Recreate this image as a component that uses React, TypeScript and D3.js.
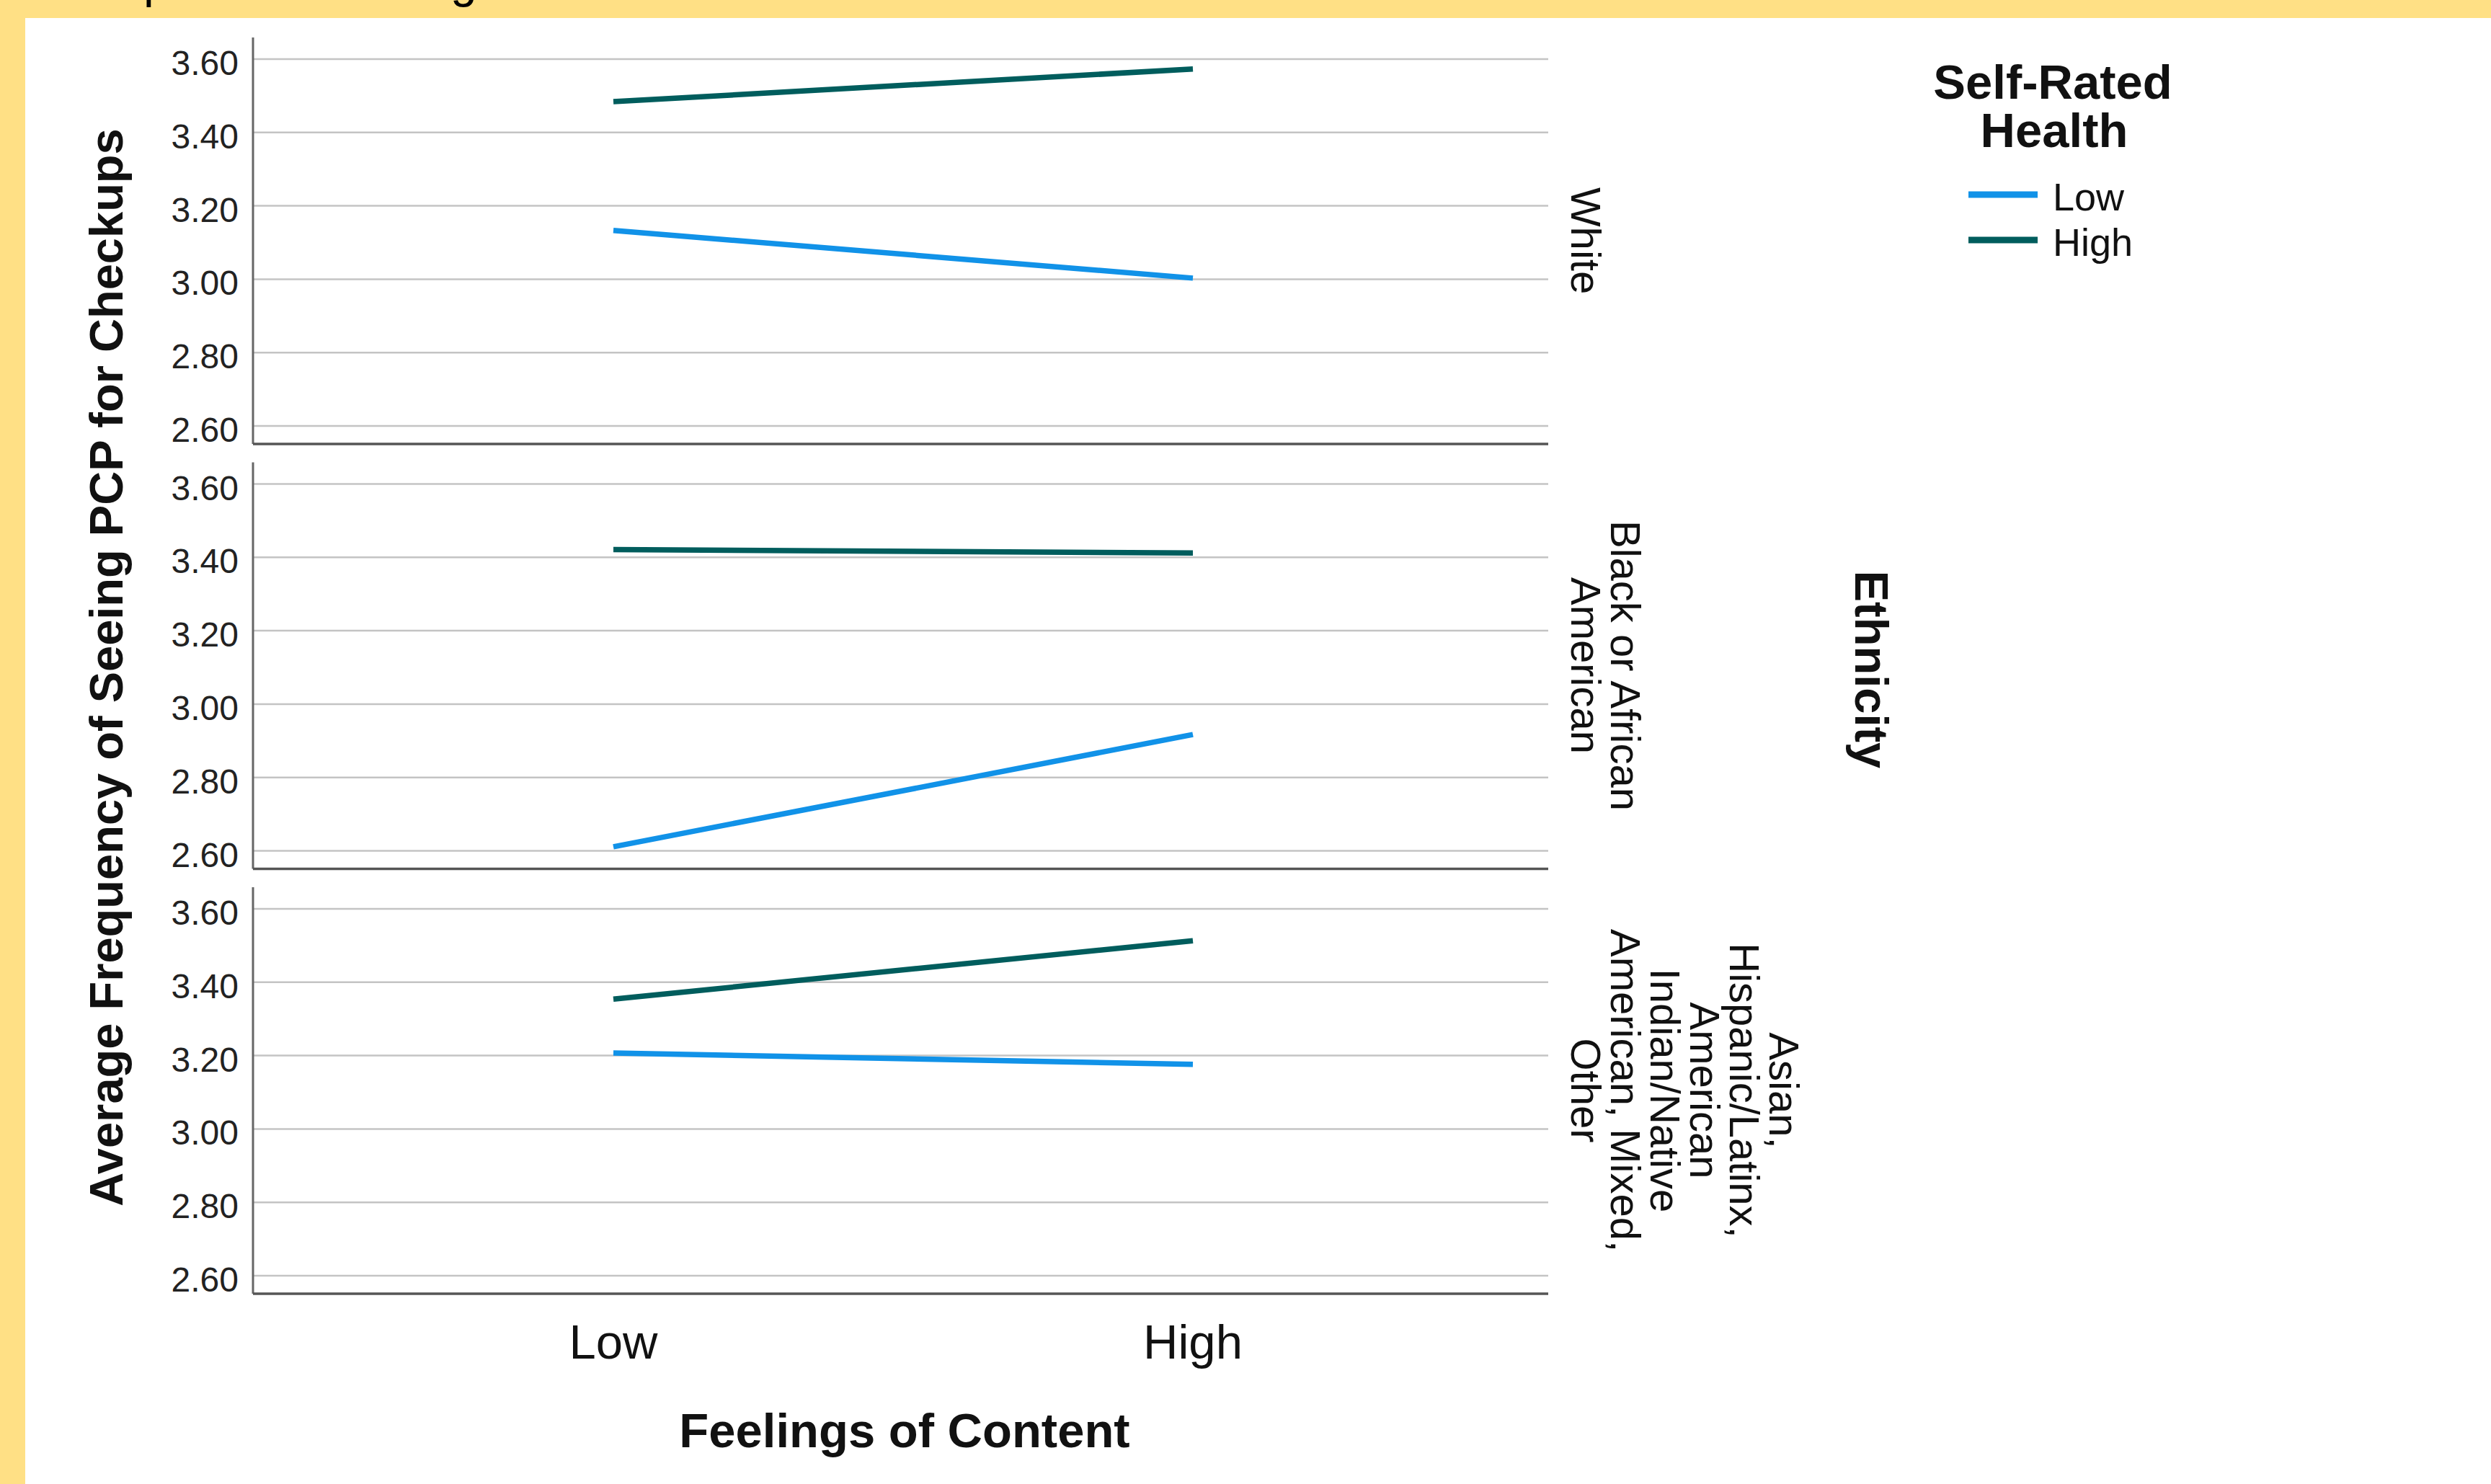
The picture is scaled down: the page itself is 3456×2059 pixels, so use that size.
import React from "react";
import * as d3 from "d3";

const contentLevels = ["Low", "High"];
const healthSeries = ["Low", "High"];
const panels = ["White", "Black or African American", "Asian, Hispanic/Latinx, American Indian/Native American, Mixed, Other"];
const panelLabelLines = [
  ["White"],
  ["Black or African", "American"],
  ["Asian,", "Hispanic/Latinx,", "American", "Indian/Native", "American, Mixed,", "Other"],
];
const lowHealthValues = [
  [3.133, 3.003],
  [2.611, 2.917],
  [3.207, 3.176],
];
const highHealthValues = [
  [3.484, 3.573],
  [3.421, 3.412],
  [3.354, 3.513],
];
const yTicks = [2.6, 2.8, 3.0, 3.2, 3.4, 3.6];
const seriesColors = ["#1192e8", "#005d5d"];

const W = 3456;
const H = 2059;
const plotLeft = 351;
const plotRight = 2148;
const panelTop0 = 52;
const panelStep = 589.5;
const panelH = 564;
const FONT = "'Liberation Sans', Arial, sans-serif";

export default function App() {
  const x = d3.scalePoint<string>().domain(contentLevels).range([851, 1655]);
  const line = d3.line<[number, number]>().x((d) => d[0]).y((d) => d[1]);

  return (
    <svg
      width={W}
      height={H}
      viewBox={`0 0 ${W} ${H}`}
      style={{ position: "absolute", left: 0, top: 0, display: "block" }}
      fontFamily={FONT}
    >
      <rect x={0} y={0} width={W} height={H} fill="#ffe085" />
      <rect x={35} y={25} width={W - 35} height={H - 25} fill="#ffffff" />
      <text x={199} y={-4} fontSize={66} fill="#000">p</text>
      <text x={625} y={-4} fontSize={66} fill="#000">g</text>

      {panels.map((p, i) => {
        const top = panelTop0 + i * panelStep;
        const bottom = top + panelH;
        const y = d3.scaleLinear().domain([2.6, 3.6]).range([top + 539, top + 30]);
        const lowPts: [number, number][] = contentLevels.map((c, j) => [x(c)!, y(lowHealthValues[i][j])]);
        const highPts: [number, number][] = contentLevels.map((c, j) => [x(c)!, y(highHealthValues[i][j])]);
        const cy = (top + bottom) / 2;
        const lines = panelLabelLines[i];
        return (
          <g key={p}>
            {yTicks.map((t) => (
              <g key={t}>
                <line x1={plotLeft} x2={plotRight} y1={y(t)} y2={y(t)} stroke="#c4c4c4" strokeWidth={2.5} />
                <text x={331} y={y(t) + 22} fontSize={48} textAnchor="end" fill="#222">
                  {t.toFixed(2)}
                </text>
              </g>
            ))}
            <line x1={plotLeft} x2={plotLeft} y1={top} y2={bottom} stroke="#666" strokeWidth={3} />
            <line x1={plotLeft} x2={plotRight} y1={bottom} y2={bottom} stroke="#555" strokeWidth={3.5} />
            <path d={line(lowPts)!} fill="none" stroke={seriesColors[0]} strokeWidth={7.5} />
            <path d={line(highPts)!} fill="none" stroke={seriesColors[1]} strokeWidth={7.5} />
            {lines.map((ln, k) => {
              const bx = 2180 + (lines.length - 1 - k) * 55;
              return (
                <text
                  key={k}
                  transform={`translate(${bx},${cy}) rotate(90)`}
                  textAnchor="middle"
                  fontSize={58}
                  fill="#111"
                >
                  {ln}
                </text>
              );
            })}
          </g>
        );
      })}

      {contentLevels.map((c) => (
        <text key={c} x={x(c)} y={1885} fontSize={67} textAnchor="middle" fill="#111">
          {c}
        </text>
      ))}
      <text x={1255} y={2008} fontSize={67} fontWeight="bold" textAnchor="middle" fill="#111">
        Feelings of Content
      </text>
      <text
        transform={`translate(170,926) rotate(-90)`}
        fontSize={65}
        fontWeight="bold"
        textAnchor="middle"
        fill="#111"
      >
        Average Frequency of Seeing PCP for Checkups
      </text>
      <text
        transform={`translate(2574,929) rotate(90)`}
        fontSize={65}
        fontWeight="bold"
        textAnchor="middle"
        fill="#111"
      >
        Ethnicity
      </text>

      <text x={2848} y={137} fontSize={67} fontWeight="bold" textAnchor="middle" fill="#111">
        Self-Rated
      </text>
      <text x={2850} y={204} fontSize={67} fontWeight="bold" textAnchor="middle" fill="#111">
        Health
      </text>
      {healthSeries.map((s, k) => (
        <g key={s}>
          <line x1={2731} x2={2827} y1={270 + k * 63} y2={270 + k * 63} stroke={seriesColors[k]} strokeWidth={9} />
          <text x={2848} y={292 + k * 63} fontSize={54} fill="#111">
            {s}
          </text>
        </g>
      ))}
    </svg>
  );
}
